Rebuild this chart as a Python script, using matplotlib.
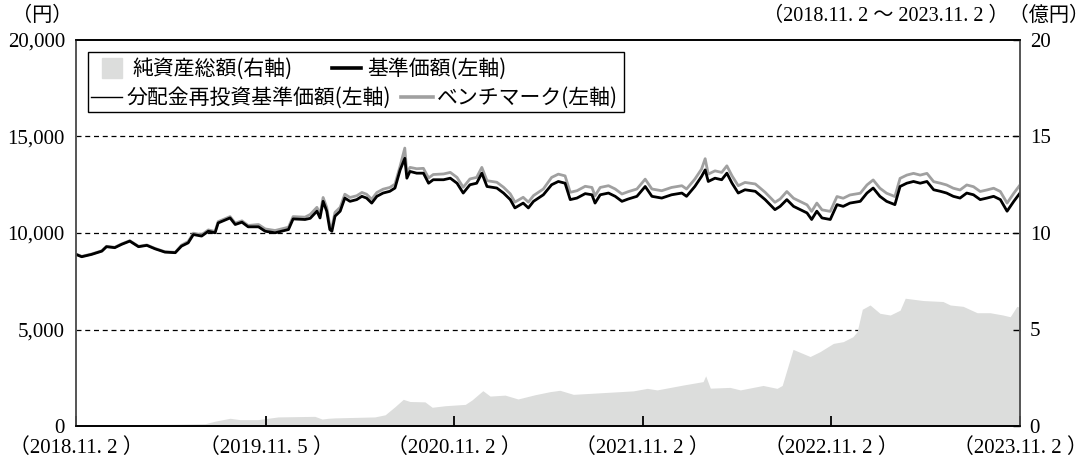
import matplotlib
matplotlib.use("Agg")
import matplotlib.pyplot as plt
from matplotlib.lines import Line2D
from matplotlib.patches import Rectangle
import pandas as pd

plt.rcParams['font.family'] = ['Liberation Serif', 'Noto Sans CJK JP']

# 基準価額・ベンチマーク（円）
price_dates = [
    "2018-11-02", "2018-11-13", "2018-12-02", "2018-12-22", "2018-12-31", "2019-01-16",
    "2019-01-29", "2019-02-14", "2019-03-03", "2019-03-19", "2019-04-04", "2019-04-23",
    "2019-05-13", "2019-05-25", "2019-06-07", "2019-06-17", "2019-07-03", "2019-07-16",
    "2019-07-29", "2019-08-04", "2019-08-27", "2019-09-06", "2019-09-19", "2019-10-01",
    "2019-10-21", "2019-11-03", "2019-11-22", "2019-12-18", "2019-12-27", "2020-01-19",
    "2020-01-29", "2020-02-11", "2020-02-17", "2020-02-23", "2020-03-01", "2020-03-07",
    "2020-03-11", "2020-03-17", "2020-03-27", "2020-04-05", "2020-04-15", "2020-04-28",
    "2020-05-08", "2020-05-17", "2020-05-27", "2020-06-06", "2020-06-18", "2020-07-01",
    "2020-07-11", "2020-07-21", "2020-07-30", "2020-08-03", "2020-08-09", "2020-08-22",
    "2020-09-04", "2020-09-14", "2020-09-23", "2020-10-13", "2020-10-26", "2020-11-08",
    "2020-11-20", "2020-12-03", "2020-12-16", "2020-12-26", "2021-01-05", "2021-01-24",
    "2021-02-06", "2021-02-19", "2021-02-28", "2021-03-16", "2021-03-26", "2021-04-05",
    "2021-04-24", "2021-05-10", "2021-05-23", "2021-06-05", "2021-06-15", "2021-06-28",
    "2021-07-14", "2021-07-27", "2021-08-02", "2021-08-12", "2021-08-28", "2021-09-10",
    "2021-09-23", "2021-10-05", "2021-10-22", "2021-11-07", "2021-11-20", "2021-12-09",
    "2021-12-28", "2022-01-17", "2022-01-26", "2022-02-11", "2022-02-24", "2022-03-03",
    "2022-03-09", "2022-03-22", "2022-04-04", "2022-04-14", "2022-04-24", "2022-05-06",
    "2022-05-19", "2022-06-08", "2022-06-27", "2022-07-16", "2022-07-26", "2022-08-08",
    "2022-08-21", "2022-09-03", "2022-09-16", "2022-09-25", "2022-10-05", "2022-10-15",
    "2022-10-31", "2022-11-13", "2022-11-25", "2022-12-08", "2022-12-28", "2023-01-10",
    "2023-01-22", "2023-02-04", "2023-02-17", "2023-03-05", "2023-03-15", "2023-03-28",
    "2023-04-10", "2023-04-23", "2023-05-06", "2023-05-19", "2023-06-01", "2023-06-13",
    "2023-06-26", "2023-07-09", "2023-07-22", "2023-08-04", "2023-08-17", "2023-08-30",
    "2023-09-12", "2023-09-25", "2023-10-08", "2023-10-21", "2023-11-02",
]
base_price = [
    8890, 8770, 8890, 9060, 9290, 9240,
    9410, 9580, 9290, 9360, 9180, 9010,
    8980, 9320, 9490, 9920, 9840, 10090,
    10010, 10520, 10780, 10440, 10560, 10320,
    10320, 10090, 10010, 10180, 10730, 10700,
    10760, 11130, 10780, 11640, 11130, 10180,
    10090, 10870, 11130, 11810, 11640, 11730,
    11900, 11810, 11550, 11900, 12070, 12160,
    12330, 13270, 13870, 12840, 13190, 13100,
    13100, 12580, 12760, 12760, 12840, 12580,
    12070, 12500, 12580, 13100, 12410, 12330,
    12070, 11730, 11300, 11550, 11300, 11640,
    11980, 12500, 12670, 12580, 11730, 11810,
    12040, 11980, 11550, 11980, 12070, 11900,
    11640, 11760, 11900, 12410, 11900, 11810,
    11980, 12070, 11900, 12410, 12930, 13270,
    12670, 12840, 12760, 13100, 12580, 12070,
    12240, 12160, 11730, 11210, 11380, 11730,
    11380, 11210, 11040, 10700, 11130, 10780,
    10700, 11470, 11380, 11550, 11640, 12070,
    12330, 11900, 11640, 11470, 12410, 12580,
    12670, 12580, 12670, 12240, 12160, 12070,
    11900, 11810, 12070, 11980, 11730, 11810,
    11900, 11730, 11130, 11640, 12070,
]
# 分配実績がないため、分配金再投資基準価額は基準価額と同じ
reinvest_price = list(base_price)
bench_price = [
    8910, 8790, 8910, 9080, 9310, 9260,
    9430, 9600, 9310, 9380, 9200, 9030,
    9000, 9370, 9560, 9990, 9910, 10160,
    10080, 10590, 10850, 10510, 10630, 10390,
    10440, 10210, 10130, 10300, 10850, 10820,
    10960, 11330, 10980, 11840, 11330, 10380,
    10290, 11070, 11330, 12010, 11840, 11930,
    12100, 12010, 11750, 12100, 12270, 12360,
    12530, 13470, 14400, 13100, 13400, 13330,
    13350, 12850, 13030, 13060, 13140, 12880,
    12370, 12800, 12880, 13400, 12710, 12630,
    12370, 12030, 11600, 11850, 11600, 11940,
    12280, 12880, 13050, 12960, 12110, 12190,
    12420, 12360, 11930, 12360, 12450, 12280,
    12020, 12140, 12280, 12790, 12280, 12190,
    12360, 12450, 12280, 12790, 13310, 13850,
    13050, 13220, 13140, 13480, 12960, 12450,
    12620, 12540, 12110, 11590, 11760, 12150,
    11800, 11630, 11460, 11120, 11550, 11200,
    11120, 11890, 11800, 11970, 12060, 12490,
    12750, 12320, 12060, 11890, 12830, 13000,
    13090, 13000, 13090, 12660, 12580, 12490,
    12320, 12230, 12490, 12400, 12150, 12230,
    12320, 12150, 11550, 12060, 12490,
]

# 純資産総額（億円）
asset_dates = [
    "2018-11-02", "2019-02-14", "2019-05-13", "2019-07-10", "2019-07-29", "2019-08-27",
    "2019-09-15", "2019-10-20", "2019-11-28", "2020-02-07", "2020-02-21", "2020-03-04",
    "2020-03-17", "2020-06-02", "2020-06-22", "2020-07-11", "2020-07-27", "2020-08-09",
    "2020-09-07", "2020-09-21", "2020-10-16", "2020-11-24", "2020-12-07", "2020-12-28",
    "2021-01-11", "2021-02-09", "2021-03-06", "2021-04-08", "2021-05-07", "2021-05-26",
    "2021-06-21", "2021-08-12", "2021-10-15", "2021-11-11", "2021-11-30", "2022-01-19",
    "2022-02-27", "2022-03-04", "2022-03-13", "2022-04-20", "2022-05-10", "2022-06-23",
    "2022-07-20", "2022-07-30", "2022-08-20", "2022-09-22", "2022-10-11", "2022-11-06",
    "2022-11-25", "2022-12-14", "2022-12-22", "2023-01-01", "2023-01-16", "2023-02-04",
    "2023-02-24", "2023-03-15", "2023-03-25", "2023-04-29", "2023-06-06", "2023-06-20",
    "2023-07-15", "2023-08-11", "2023-09-05", "2023-09-30", "2023-10-14", "2023-10-27",
    "2023-11-02",
]
net_assets = [
    0.05, 0.07, 0.09, 0.12, 0.25, 0.40,
    0.33, 0.33, 0.47, 0.50, 0.36, 0.40,
    0.42, 0.47, 0.58, 1.00, 1.38, 1.27,
    1.25, 0.97, 1.05, 1.12, 1.35, 1.83,
    1.55, 1.60, 1.40, 1.62, 1.78, 1.85,
    1.64, 1.72, 1.82, 1.95, 1.87, 2.12,
    2.30, 2.60, 1.96, 2.00, 1.87, 2.10,
    1.95, 2.10, 3.97, 3.60, 3.85, 4.28,
    4.37, 4.63, 4.89, 6.05, 6.27, 5.84,
    5.75, 6.00, 6.62, 6.50, 6.45, 6.27,
    6.20, 5.87, 5.87, 5.75, 5.66, 6.20,
    6.15,
]

tick_dates = ["2018-11-02", "2019-11-05", "2020-11-02", "2021-11-02", "2022-11-02", "2023-11-02"]
tick_labels = ["（2018.11. 2 ）", "（2019.11. 5 ）", "（2020.11. 2 ）",
               "（2021.11. 2 ）", "（2022.11. 2 ）", "（2023.11. 2 ）"]
left_ticks = [0, 5000, 10000, 15000, 20000]
right_ticks = [0, 5, 10, 15, 20]

price_x = pd.to_datetime(price_dates)
asset_x = pd.to_datetime(asset_dates)

fig = plt.figure(figsize=(10.91, 4.59), dpi=100)
ax = fig.add_axes([76 / 1091, 33 / 459, 944 / 1091, 386 / 459])
ax2 = ax.twinx()
# 右軸（面グラフ）を下、左軸（折れ線・目盛）を上に重ねる
ax.set_zorder(ax2.get_zorder() + 1)
ax.patch.set_visible(False)

# 破線グリッドは面グラフの下に描く
for g in right_ticks[1:-1]:
    ax2.axhline(g, color="black", lw=0.9, linestyle=(0, (4, 3)), zorder=0)
ax2.fill_between(asset_x, net_assets, color="#dcdddc", lw=0, zorder=1)

ax.plot(price_x, bench_price, color="#a0a0a0", lw=2.0)
ax.plot(price_x, base_price, color="black", lw=2.0)
ax.plot(price_x, reinvest_price, color="black", lw=0.8)

ax.set_xlim(pd.Timestamp(tick_dates[0]), pd.Timestamp(tick_dates[-1]))
ax.set_ylim(0, 20000)
ax2.set_ylim(0, 20)

ax.set_yticks(left_ticks)
ax.set_yticklabels([f"{v:,}" for v in left_ticks])
ax2.set_yticks(right_ticks)
ax2.set_yticklabels([str(v) for v in right_ticks])
ax.set_xticks(pd.to_datetime(tick_dates))
ax.set_xticklabels(tick_labels)

ax.tick_params(axis="y", length=0, pad=8, labelsize=15)
ax.tick_params(axis="x", direction="in", length=7, width=1.3, color="black",
               pad=9, labelsize=15)
ax2.tick_params(axis="y", direction="in", length=5, width=1, pad=7, labelsize=15)

for a in (ax, ax2):
    for s in ("left", "right"):
        a.spines[s].set_color("#555555")
        a.spines[s].set_linewidth(1.2)
    for s in ("top", "bottom"):
        a.spines[s].set_color("black")
        a.spines[s].set_linewidth(1.2)

fig.text(42 / 1091, 1 - 16 / 459, "（円）", ha="center", va="center", fontsize=14.5)
fig.text(1089 / 1091, 1 - 16 / 459, "（2018.11. 2 ～ 2023.11. 2 ）（億円）",
         ha="right", va="center", fontsize=14.5)

# 凡例（2段）
leg_font = {"family": "Noto Sans CJK JP", "size": 15}
h_area = Line2D([], [], marker="s", ls="none", ms=15, color="#dcdddc")
h_base = Line2D([], [], color="black", lw=2.6)
h_reinv = Line2D([], [], color="black", lw=1.0)
h_bench = Line2D([], [], color="#a0a0a0", lw=2.6)

leg1 = fig.legend([h_area, h_base], ["純資産総額(右軸)", "基準価額(左軸)"],
                  ncol=2, loc="upper left", bbox_to_anchor=(97 / 1091, 1 - 58 / 459),
                  frameon=False, prop=leg_font, handlelength=1.4, handletextpad=0.3,
                  columnspacing=1.9, borderpad=0, borderaxespad=0)
leg2 = fig.legend([h_reinv, h_bench], ["分配金再投資基準価額(左軸)", "ベンチマーク(左軸)"],
                  ncol=2, loc="upper left", bbox_to_anchor=(91 / 1091, 1 - 87 / 459),
                  frameon=False, prop=leg_font, handlelength=1.5, handletextpad=0.2,
                  columnspacing=0.5, borderpad=0, borderaxespad=0)

# 凡例2段を囲む枠
fig.canvas.draw()
r = fig.canvas.get_renderer()
right_px = max(leg1.get_window_extent(r).x1, leg2.get_window_extent(r).x1) + 6
fig.patches.append(Rectangle((88 / 1091, 1 - 112 / 459), (right_px - 88) / 1091, 60 / 459,
                             transform=fig.transFigure, fill=True, facecolor="white",
                             edgecolor="black", lw=1.0, zorder=4))

fig.savefig("out.png", dpi=100)
